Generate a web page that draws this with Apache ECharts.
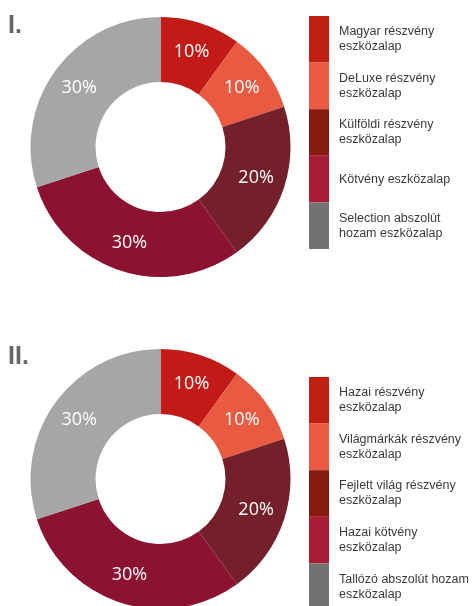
<!DOCTYPE html>
<html>
<head>
<meta charset="utf-8">
<script src="https://cdn.jsdelivr.net/npm/echarts@6/dist/echarts.min.js"></script>
<style>
  html, body { margin: 0; padding: 0; background: #fff; }
  #chart { width: 472px; height: 606px; }
</style>
</head>
<body>
<div id="chart"></div>
<script>
const values = [10, 10, 20, 30, 30];
const namesI = [
  'Magyar részvény\neszközalap',
  'DeLuxe részvény\neszközalap',
  'Külföldi részvény\neszközalap',
  'Kötvény eszközalap',
  'Selection abszolút\nhozam eszközalap'
];
const namesII = [
  'Hazai részvény\neszközalap',
  'Világmárkák részvény\neszközalap',
  'Fejlett világ részvény\neszközalap',
  'Hazai kötvény\neszközalap',
  'Tallózó abszolút hozam\neszközalap'
];
const sliceColors = ['#C21B17', '#E85B40', '#74202A', '#8B1230', '#A6A6A6'];
const legendColors = ['#C0200F', '#EB5B44', '#861A10', '#A81C36', '#727272'];

const chart = echarts.init(document.getElementById('chart'));

function pieData(names) {
  return names.map((n, i) => ({ name: n, value: values[i], itemStyle: { color: sliceColors[i] } }));
}
function legendData(names) {
  return names.map((n, i) => ({ name: n, itemStyle: { color: legendColors[i] } }));
}
function legend(names, top) {
  return {
    orient: 'vertical',
    left: 309,
    top: top,
    height: 400,
    padding: 0,
    itemWidth: 20,
    itemHeight: 46.6,
    itemGap: 0,
    icon: 'rect',
    selectedMode: false,
    data: legendData(names),
    textStyle: {
      fontFamily: 'Liberation Sans',
      fontSize: 12.5,
      lineHeight: 15,
      color: '#3a3a3a',
      padding: [0, 0, 0, 5]
    }
  };
}
function series(names, cy) {
  return {
    type: 'pie',
    center: [160.5, cy],
    radius: [65, 130],
    startAngle: 90,
    clockwise: true,
    silent: true,
    animation: false,
    itemStyle: { borderWidth: 0 },
    label: {
      position: 'inside',
      formatter: '{c}%',
      color: '#fff',
      fontFamily: 'Open Sans',
      fontSize: 18
    },
    labelLine: { show: false },
    data: pieData(names)
  };
}

chart.setOption({
  animation: false,
  title: [
    { text: 'I.', left: 8, top: 14, padding: 0, textStyle: { fontFamily: 'Liberation Sans', fontWeight: 'bold', fontSize: 25, color: '#666' } },
    { text: 'II.', left: 8, top: 345, padding: 0, textStyle: { fontFamily: 'Liberation Sans', fontWeight: 'bold', fontSize: 25, color: '#666' } }
  ],
  legend: [legend(namesI, 16), legend(namesII, 377)],
  series: [series(namesI, 147), series(namesII, 479)]
});
</script>
</body>
</html>
